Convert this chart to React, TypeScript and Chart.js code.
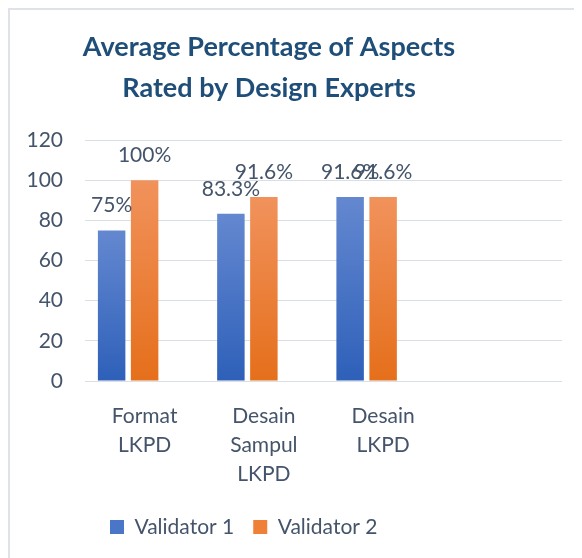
import React, { useEffect, useRef } from 'react';
import { Chart, registerables } from 'chart.js';

Chart.register(...registerables);

// ---------- data ----------
const categories: (string | string[])[] = [
  ['Format', 'LKPD'],
  ['Desain', 'Sampul', 'LKPD'],
  ['Desain', 'LKPD'],
  '',
];
const validator1: (number | null)[] = [75, 83.3, 91.6, null];
const validator2: (number | null)[] = [100, 91.6, 91.6, null];
const series3: (number | null)[] = [null, null, null, null];
const seriesNames = ['Validator 1', 'Validator 2', 'Series 3'];
const yTicks = [0, 20, 40, 60, 80, 100, 120];
const titleLines = ['Average Percentage of Aspects', 'Rated by Design Experts'];

// ---------- styles ----------
const FONT = 'Lato, "Open Sans", sans-serif';
const TEXT = '#44546A';
const TITLE = '#1F4E79';
const GRID = '#dadfe6';
const BLUE_TOP = '#6488d0';
const BLUE_BOT = '#2e60b9';
const ORANGE_TOP = '#f1925c';
const ORANGE_BOT = '#e56f1b';
const legendColors = ['#4a76c8', '#ee8038'];

const gradient = (top: string, bottom: string) => (c: any) => {
  const chart = c.chart;
  if (!chart.chartArea || c.raw == null || !chart.scales?.y) return bottom;
  const ys = chart.scales.y;
  const yTop = ys.getPixelForValue(c.raw);
  const yBot = ys.getPixelForValue(0);
  if (!isFinite(yTop) || !isFinite(yBot) || yTop === yBot) return bottom;
  const g = chart.ctx.createLinearGradient(0, yTop, 0, yBot);
  g.addColorStop(0, top);
  g.addColorStop(1, bottom);
  return g;
};

const dataLabelPlugin = {
  id: 'valueLabels',
  afterDatasetsDraw(chart: any) {
    const ctx = chart.ctx;
    ctx.save();
    ctx.font = `21px ${FONT}`;
    ctx.fillStyle = TEXT;
    ctx.textAlign = 'center';
    ctx.textBaseline = 'alphabetic';
    chart.data.datasets.forEach((ds: any, i: number) => {
      const meta = chart.getDatasetMeta(i);
      meta.data.forEach((bar: any, j: number) => {
        const v = ds.data[j];
        if (v == null) return;
        ctx.fillText(`${v}%`, bar.x, bar.y - 18);
      });
    });
    ctx.restore();
  },
};

const placementPlugin = {
  id: 'placement',
  afterLayout(chart: any) {
    const t = chart.titleBlock;
    if (t) {
      t.left -= 17;
      t.right -= 17;
    }
    const lg = chart.legend;
    if (lg) {
      const w = lg.right - lg.left;
      lg.left = 81;
      lg.right = 81 + w;
    }
  },
};

export default function App() {
  const ref = useRef<HTMLCanvasElement | null>(null);

  useEffect(() => {
    document.documentElement.style.overflow = 'hidden';
    if (!ref.current) return;
    const chart = new Chart(ref.current, {
      type: 'bar',
      data: {
        labels: categories as any,
        datasets: [
          {
            label: seriesNames[0],
            data: validator1,
            backgroundColor: gradient(BLUE_TOP, BLUE_BOT) as any,
            borderWidth: 0,
            categoryPercentage: 0.83,
            barPercentage: 0.833,
          },
          {
            label: seriesNames[1],
            data: validator2,
            backgroundColor: gradient(ORANGE_TOP, ORANGE_BOT) as any,
            borderWidth: 0,
            categoryPercentage: 0.83,
            barPercentage: 0.833,
          },
          {
            label: seriesNames[2],
            data: series3,
            backgroundColor: '#a5a5a5',
            borderWidth: 0,
            categoryPercentage: 0.83,
            barPercentage: 0.833,
          },
        ],
      },
      options: {
        animation: false,
        responsive: false,
        maintainAspectRatio: false,
        layout: { padding: { left: 0, right: 20, top: 0, bottom: 10.5 } },
        scales: {
          x: {
            grid: { display: false },
            border: { display: false },
            ticks: {
              font: { family: FONT, size: 21, lineHeight: 1.367 },
              color: TEXT,
              padding: 13,
              maxRotation: 0,
              minRotation: 0,
              autoSkip: false,
            },
            afterFit: (s: any) => {
              s.height = 116.5;
            },
          },
          y: {
            min: 0,
            max: 120,
            grid: { color: GRID, lineWidth: 1, drawTicks: false },
            border: { display: false },
            ticks: {
              font: { family: FONT, size: 21 },
              color: TEXT,
              padding: 22,
            },
            afterBuildTicks: (s: any) => {
              s.ticks = yTicks.map((v) => ({ value: v }));
            },
            afterFit: (s: any) => {
              s.width = 75;
            },
          },
        },
        plugins: {
          title: {
            display: true,
            text: titleLines,
            color: TITLE,
            font: { family: FONT, size: 27, weight: 'bold', lineHeight: 1.5 },
            padding: { top: 17.4, bottom: 31.6 },
          },
          legend: {
            position: 'bottom',
            align: 'start',
            labels: {
              boxWidth: 14,
              boxHeight: 14,
              padding: 19,
              color: TEXT,
              font: { family: FONT, size: 21 },
              generateLabels: (c: any) =>
                (Chart.defaults.plugins.legend.labels.generateLabels as any)(c)
                  .filter((it: any) => it.datasetIndex < 2)
                  .map((it: any) => ({
                    ...it,
                    fillStyle: legendColors[it.datasetIndex],
                    strokeStyle: legendColors[it.datasetIndex],
                    lineWidth: 0,
                  })),
            },
          },
          tooltip: { enabled: false },
        },
      } as any,
      plugins: [dataLabelPlugin, placementPlugin],
    });
    return () => chart.destroy();
  }, []);

  return (
    <div
      style={{
        width: 572,
        height: 548,
        borderTop: '2px solid #dfe3e9',
        borderLeft: '2px solid #dfe3e9',
        background: '#ffffff',
      }}
    >
      <canvas ref={ref} width={572} height={548} style={{ display: 'block', width: 572, height: 548 }} />
    </div>
  );
}
